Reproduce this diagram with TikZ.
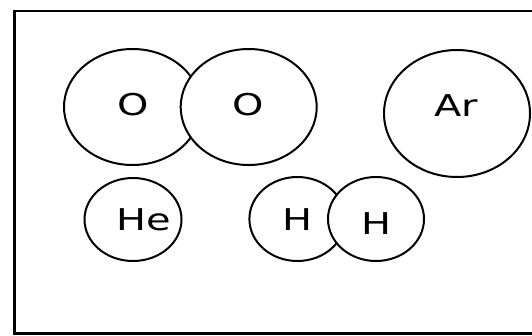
\documentclass[tikz,border=0pt]{standalone}
\usepackage{fontspec}
\setmainfont{DejaVu Sans}
\usetikzlibrary{shapes.geometric}
% horizontally widened symbol lettering
\newcommand\widesym[1]{\scalebox{1.33}[1]{#1}}
\begin{document}
\begin{tikzpicture}[x=1pt,y=-1pt,
  atom/.style={ellipse, draw, fill=white, line width=2pt, inner sep=0pt},
  sym/.style={inner sep=0pt, font=\fontsize{30}{30}\selectfont},
  frame/.style={draw, line width=2.8pt}]
\useasboundingbox (0,0) rectangle (532,335);
\clip (0,0) rectangle (532,335);
% outer frame (runs off the right edge)
\draw[frame] (14.3,11) rectangle (570,333.3);
% oxygen molecule (second atom drawn over the first)
\node[atom, minimum width=137pt, minimum height=116pt] (o1) at (132.5,107) {};
\node[atom, minimum width=136pt, minimum height=116pt] (o2) at (248.7,107) {};
% argon
\node[atom, minimum width=146pt, minimum height=127pt] (ar) at (457,113.5) {};
% helium
\node[atom, minimum width=97pt, minimum height=83pt] (he) at (133,219.5) {};
% hydrogen molecule (second atom drawn over the first)
\node[atom, minimum width=96pt, minimum height=84pt] (h1) at (297.4,219) {};
\node[atom, minimum width=96pt, minimum height=84pt] (h2) at (376,219) {};
% element symbols
\node[sym] (o1t) at (133.5,105) {\widesym{O}};
\node[sym] (o2t) at (248.5,105) {\widesym{O}};
\node[sym] (art) at (456,105.5) {\widesym{Ar}};
\node[sym] (het) at (144,220) {\widesym{He}};
\node[sym] (h1t) at (297.3,220) {\widesym{H}};
\node[sym] (h2t) at (376,223.5) {\widesym{H}};
\end{tikzpicture}
\end{document}
